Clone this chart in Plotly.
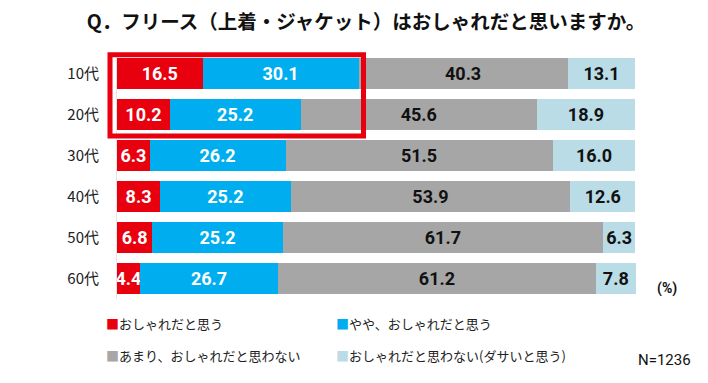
import plotly.graph_objects as go

categories = ["10代", "20代", "30代", "40代", "50代", "60代"]
series_names = ["おしゃれだと思う", "やや、おしゃれだと思う", "あまり、おしゃれだと思わない", "おしゃれだと思わない(ダサいと思う)"]
v_yes = [16.5, 10.2, 6.3, 8.3, 6.8, 4.4]
v_some = [30.1, 25.2, 26.2, 25.2, 25.2, 26.7]
v_not_much = [40.3, 45.6, 51.5, 53.9, 61.7, 61.2]
v_no = [13.1, 18.9, 16.0, 12.6, 6.3, 7.8]
title_text = "Q．フリース（上着・ジャケット）はおしゃれだと思いますか。"
unit_text = "(%)"
n_text = "N=1236"

series = [v_yes, v_some, v_not_much, v_no]
colors = ["#E8000F", "#00AEEF", "#A6A6A6", "#B9DCE7"]
text_colors = ["#FFFFFF", "#FFFFFF", "#111111", "#111111"]

NUM_FONT = "Roboto, Liberation Sans, sans-serif"
JP_FONT = "Noto Sans CJK JP, Noto Sans, sans-serif"

totals = [sum(t) for t in zip(*series)]
xmax = max(totals)

fig = go.Figure()
for name, vals, c, tc in zip(series_names, series, colors, text_colors):
    fig.add_trace(go.Bar(
        y=categories, x=vals, name=name, orientation="h",
        marker=dict(color=c, line=dict(width=0)),
        text=[f"{v:.1f}" for v in vals],
        textposition="inside", insidetextanchor="middle",
        textangle=0, constraintext="none", cliponaxis=False,
        textfont=dict(family=NUM_FONT, size=18, color=tc, weight="bold"),
        hoverinfo="skip",
    ))

fig.update_layout(
    width=708, height=383,
    margin=dict(l=117, r=72, t=52.5, b=84),
    barmode="stack", bargap=0.26,
    paper_bgcolor="white", plot_bgcolor="white",
    showlegend=False,
    title=dict(text=title_text, x=0.517, xref="container", xanchor="center",
               y=1 - 22.5 / 383, yref="container", yanchor="middle",
               font=dict(family=JP_FONT, size=19.5, color="#111111", weight="bold")),
    xaxis=dict(range=[0, xmax], visible=False, fixedrange=True),
    yaxis=dict(autorange="reversed", showgrid=False, zeroline=False,
               showline=True, linecolor="#E4E4E4", linewidth=1,
               ticks="", ticklabelstandoff=14, fixedrange=True,
               tickfont=dict(family=JP_FONT, size=15, color="#222222")),
)

# highlight box around 10代/20代 "おしゃれ" segments
fig.add_shape(type="rect", xref="paper", yref="paper",
              x0=(110 - 117) / 519, x1=(363.5 - 117) / 519,
              y0=(298.8 - 135.7) / 246.3, y1=(298.8 - 54.3) / 246.3,
              line=dict(color="#E8000F", width=5), fillcolor="rgba(0,0,0,0)", layer="above")

# unit and N
fig.add_annotation(text=unit_text, xref="paper", yref="paper",
                   x=(667 - 117) / 519, y=(298.8 - 288) / 246.3,
                   showarrow=False, xanchor="center", yanchor="middle",
                   font=dict(family=NUM_FONT, size=14, color="#111111", weight="bold"))
fig.add_annotation(text=n_text, xref="paper", yref="paper",
                   x=(664 - 117) / 519, y=(298.8 - 360) / 246.3,
                   showarrow=False, xanchor="center", yanchor="middle",
                   font=dict(family=NUM_FONT, size=15, color="#111111"))

# legend as annotations (2 x 2)
leg_pos = [(104, 323), (334, 323), (104, 355), (334, 355)]
for (px, py), name, c in zip(leg_pos, series_names, colors):
    fig.add_annotation(
        text=f'<span style="color:{c}">■</span>{name}',
        xref="paper", yref="paper",
        x=(px - 117) / 519, y=(298.8 - py) / 246.3,
        showarrow=False, xanchor="left", yanchor="middle",
        font=dict(family=JP_FONT, size=13, color="#222222"))

fig.write_html("out.html",
               config={"displayModeBar": False, "staticPlot": True},
               post_script="document.body.style.margin='0';document.body.style.overflow='hidden';")
